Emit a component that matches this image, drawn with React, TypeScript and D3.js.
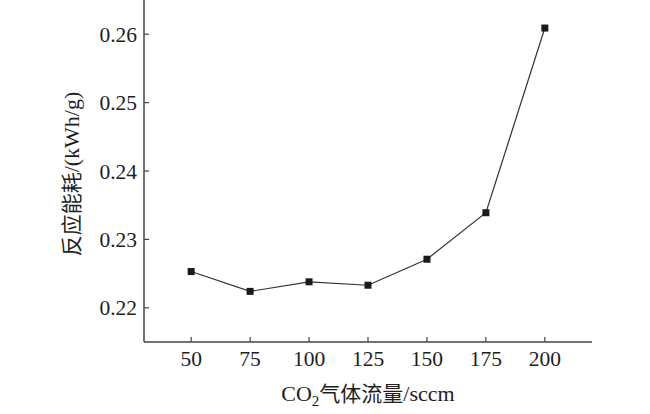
import { useEffect, useRef } from 'react';
import * as d3 from 'd3';

// CO2 flow (sccm) vs reaction energy consumption (kWh/g)
const flows = [50, 75, 100, 125, 150, 175, 200];
const energy = [0.2253, 0.2224, 0.2238, 0.2233, 0.2271, 0.2339, 0.2609];
const xTicks = [50, 75, 100, 125, 150, 175, 200];
const yTicks = [0.22, 0.23, 0.24, 0.25, 0.26];

const serif = '"Liberation Serif", "Times New Roman", serif';
const cjk = '"Noto Sans CJK SC", "Liberation Serif", serif';

export default function App() {
    const svgRef = useRef<SVGSVGElement>(null);

    useEffect(() => {
        if (!svgRef.current) return;
        const svg = d3.select(svgRef.current);
        svg.selectAll('*').remove();

        const width = 650;
        const height = 414;
        const margin = { top: 0, right: 58, bottom: 72, left: 144 };

        const x = d3.scaleLinear()
            .domain([30, 220])
            .range([margin.left, width - margin.right]);
        const y = d3.scaleLinear()
            .domain([0.215, 0.265])
            .range([height - margin.bottom, margin.top]);

        const axisColor = '#444';
        const x0 = margin.left;
        const y0 = height - margin.bottom;

        // axis lines (left and bottom only)
        svg.append('line')
            .attr('x1', x0).attr('x2', x0)
            .attr('y1', margin.top).attr('y2', y0)
            .attr('stroke', axisColor).attr('stroke-width', 1.5);
        svg.append('line')
            .attr('x1', x0).attr('x2', width - margin.right)
            .attr('y1', y0).attr('y2', y0)
            .attr('stroke', axisColor).attr('stroke-width', 1.5);

        // x ticks (inward)
        const xt = svg.append('g');
        xTicks.forEach(t => {
            xt.append('line')
                .attr('x1', x(t)).attr('x2', x(t))
                .attr('y1', y0).attr('y2', y0 - 5)
                .attr('stroke', axisColor).attr('stroke-width', 1.2);
            xt.append('text')
                .attr('x', x(t))
                .attr('y', y0 + 24)
                .attr('text-anchor', 'middle')
                .attr('font-family', serif)
                .attr('font-size', 21.5)
                .attr('fill', '#1e1e1e')
                .text(String(t));
        });

        // y ticks (inward)
        const yt = svg.append('g');
        yTicks.forEach(t => {
            yt.append('line')
                .attr('x1', x0).attr('x2', x0 + 5)
                .attr('y1', y(t)).attr('y2', y(t))
                .attr('stroke', axisColor).attr('stroke-width', 1.2);
            yt.append('text')
                .attr('x', x0 - 7)
                .attr('y', y(t))
                .attr('dy', '0.35em')
                .attr('text-anchor', 'end')
                .attr('font-family', serif)
                .attr('font-size', 21.5)
                .attr('fill', '#1e1e1e')
                .text(d3.format('.2f')(t));
        });

        // line
        const pts = flows.map((f, i) => [f, energy[i]] as [number, number]);
        const line = d3.line<[number, number]>()
            .x(d => x(d[0]))
            .y(d => y(d[1]));
        svg.append('path')
            .attr('d', line(pts))
            .attr('fill', 'none')
            .attr('stroke', '#333')
            .attr('stroke-width', 1.2);

        // square markers
        svg.selectAll('.pt')
            .data(pts)
            .enter()
            .append('rect')
            .attr('class', 'pt')
            .attr('x', d => x(d[0]) - 3.5)
            .attr('y', d => y(d[1]) - 3.5)
            .attr('width', 7)
            .attr('height', 7)
            .attr('fill', '#1a1a1a');

        // x title
        const xTitle = svg.append('text')
            .attr('x', (x0 + width - margin.right) / 2)
            .attr('y', 401)
            .attr('text-anchor', 'middle')
            .attr('font-size', 22)
            .attr('fill', '#1e1e1e');
        xTitle.append('tspan').attr('font-family', serif).text('CO');
        xTitle.append('tspan').attr('font-family', serif)
            .attr('font-size', 15).attr('dy', 5).text('2');
        xTitle.append('tspan').attr('font-family', cjk)
            .attr('dy', -5).attr('font-size', 21).text('气体流量');
        xTitle.append('tspan').attr('font-family', serif).text('/sccm');

        // y title
        const yTitle = svg.append('text')
            .attr('transform', `translate(79,${174}) rotate(-90)`)
            .attr('text-anchor', 'middle')
            .attr('font-size', 22)
            .attr('fill', '#1e1e1e');
        yTitle.append('tspan').attr('font-family', cjk)
            .attr('font-size', 21).text('反应能耗');
        yTitle.append('tspan').attr('font-family', serif).text('/(kWh/g)');
    }, []);

    return (
        <svg
            ref={svgRef}
            width={650}
            height={414}
            style={{ position: 'absolute', left: 0, top: 0, background: '#fff' }}
        />
    );
}
